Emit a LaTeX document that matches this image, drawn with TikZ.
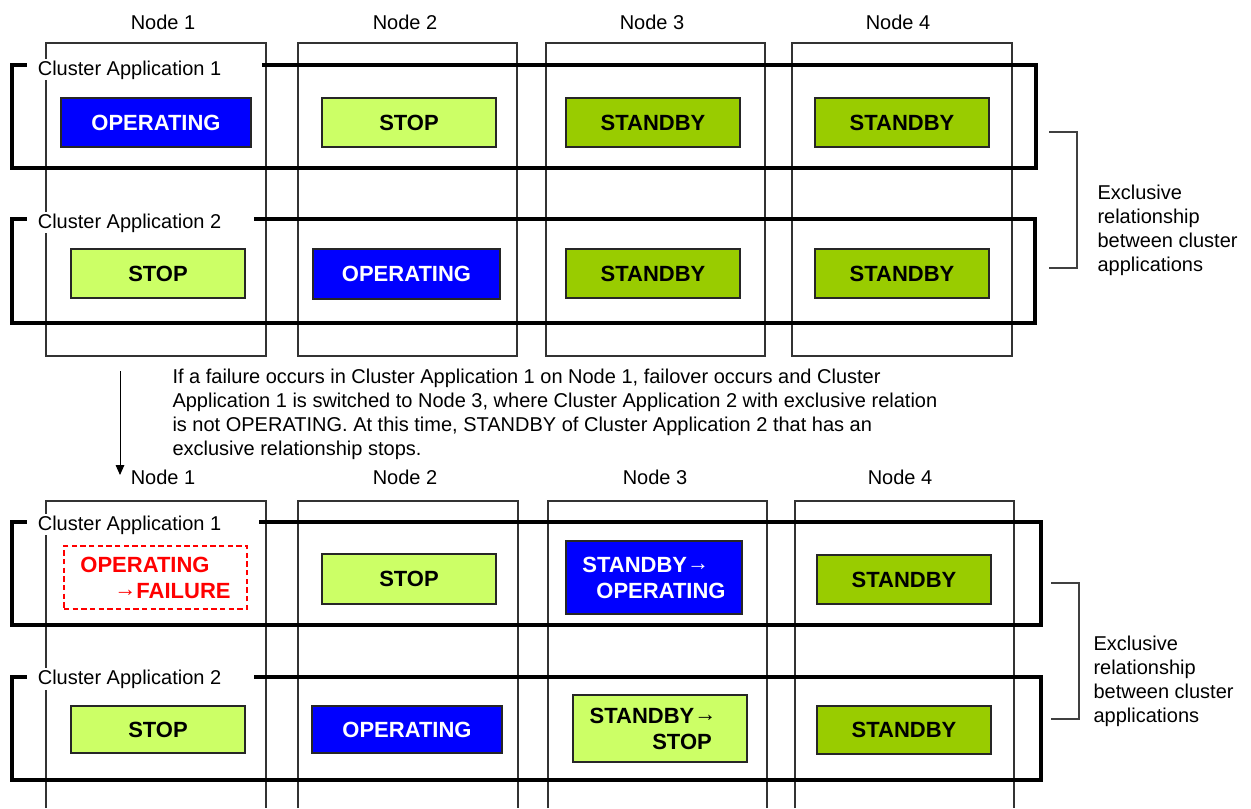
\documentclass[tikz,border=0pt]{standalone}
\usepackage{fontspec}
\setmainfont{Liberation Sans}
\usetikzlibrary{arrows.meta}

\definecolor{opblue}{RGB}{0,0,255}
\definecolor{stoplime}{RGB}{204,255,102}
\definecolor{sbgreen}{RGB}{153,204,0}
\definecolor{failred}{RGB}{255,0,0}

\newcommand{\toarrow}{\raisebox{1.5pt}{→}}

\tikzset{every picture/.style={line width=0.75pt}}
\tikzset{
  nodecol/.style={draw=black!80, line width=1pt},
  appframe/.style={draw=black, line width=2.4pt},
  applabel/.style={anchor=base west, fill=white, inner sep=1pt, font=\fontsize{15}{18}\selectfont},
  nodelabel/.style={anchor=base, inner sep=0pt, font=\fontsize{15}{18}\selectfont},
  statebox/.style={draw=black!85, line width=1.1pt, inner sep=0pt, align=left, font=\fontsize{16.5}{19.5}\selectfont\bfseries},
  opbox/.style={statebox, fill=opblue, text=white},
  stopbox/.style={statebox, fill=stoplime, text=black},
  sbbox/.style={statebox, fill=sbgreen, text=black},
  failbox/.style={statebox, color=failred, dash pattern=on 4pt off 2.5pt, line width=1pt},
  bracket/.style={draw=black!75, line width=1pt},
  note/.style={anchor=north west, inner sep=0pt, align=left, font=\fontsize{15}{18}\selectfont},
}

\begin{document}
\begin{tikzpicture}[x=0.75pt,y=0.75pt,yscale=-1,xscale=1]
\useasboundingbox (0,0) rectangle (1251,808);

%%%%%%%%%% before failover %%%%%%%%%%

%Shape: Node columns
\draw [nodecol] (46,43) rectangle (266,356);
\draw [nodecol] (298,43) rectangle (517,356);
\draw [nodecol] (546,43) rectangle (765,356);
\draw [nodecol] (792,43) rectangle (1012,356);

% Text Node
\node [nodelabel] (preN1) at (163,29) {Node 1};
\node [nodelabel] (preN2) at (405,29) {Node 2};
\node [nodelabel] (preN3) at (652,29) {Node 3};
\node [nodelabel] (preN4) at (898,29) {Node 4};

%Shape: Cluster application frames
\draw [appframe] (262,65) -- (1036,65) -- (1036,168) -- (12,168) -- (12,65) -- (27,65);
\draw [appframe] (254,219) -- (1035,219) -- (1035,323) -- (12,323) -- (12,219) -- (27,219);
\node [applabel] (preApp1) at (36,75) {Cluster Application 1};
\node [applabel] (preApp2) at (36,228) {Cluster Application 2};

%Shape: States of Cluster Application 1
\node [opbox, minimum width=142.5pt, minimum height=36.75pt] (pre11) at (156,122.5) {OPERATING};
\node [stopbox, minimum width=130.5pt, minimum height=36.75pt] (pre12) at (409,122.5) {STOP};
\node [sbbox, minimum width=130.5pt, minimum height=36.75pt] (pre13) at (653,122.5) {STANDBY};
\node [sbbox, minimum width=130.5pt, minimum height=36.75pt] (pre14) at (902,122.5) {STANDBY};

%Shape: States of Cluster Application 2
\node [stopbox, minimum width=130.5pt, minimum height=36.75pt] (pre21) at (158,273.5) {STOP};
\node [opbox, minimum width=140.25pt, minimum height=37.5pt] (pre22) at (406.5,274) {OPERATING};
\node [sbbox, minimum width=130.5pt, minimum height=36.75pt] (pre23) at (653,273.5) {STANDBY};
\node [sbbox, minimum width=130.5pt, minimum height=36.75pt] (pre24) at (902,273.5) {STANDBY};

%Straight Lines: bracket
\draw [bracket] (1049,132) -- (1077,132) -- (1077,268) -- (1049,268);
% Text Node
\node [note] (preExcl) at (1097,184) {Exclusive\\relationship\\between cluster\\applications};

%%%%%%%%%% failover %%%%%%%%%%

\coordinate (flowTop) at (120,371);
\coordinate (flowTip) at (120,475);
\draw [-{Triangle[length=7.5pt,width=6.5pt]}] (flowTop) -- (flowTip);

% Text Node
\node [note] (failNote) at (172,368) {If a failure occurs in Cluster Application 1 on Node 1, failover occurs and Cluster\\Application 1 is switched to Node 3, where Cluster Application 2 with exclusive relation\\is not OPERATING. At this time, STANDBY of Cluster Application 2 that has an\\exclusive relationship stops.};

%%%%%%%%%% after failover %%%%%%%%%%

%Shape: Node columns
\draw [nodecol] (46,808) -- (46,501) -- (266,501) -- (266,808);
\draw [nodecol] (298,808) -- (298,501) -- (518,501) -- (518,808);
\draw [nodecol] (548,808) -- (548,501) -- (767,501) -- (767,808);
\draw [nodecol] (795,808) -- (795,501) -- (1014,501) -- (1014,808);

% Text Node
\node [nodelabel] (postN1) at (163,484) {Node 1};
\node [nodelabel] (postN2) at (405,484) {Node 2};
\node [nodelabel] (postN3) at (655,484) {Node 3};
\node [nodelabel] (postN4) at (900,484) {Node 4};

%Shape: Cluster application frames
\draw [appframe] (259,522) -- (1041,522) -- (1041,625) -- (12,625) -- (12,522) -- (27,522);
\draw [appframe] (254,677) -- (1041,677) -- (1041,780) -- (12,780) -- (12,677) -- (27,677);
\node [applabel] (postApp1) at (36,530) {Cluster Application 1};
\node [applabel] (postApp2) at (36,684) {Cluster Application 2};

%Shape: States of Cluster Application 1
\node [failbox, minimum width=137.25pt, minimum height=47.25pt] (post11) at (155.5,577.5) {OPERATING\\\hspace*{25.5pt}\toarrow FAILURE};
\node [stopbox, minimum width=130.5pt, minimum height=37.5pt] (post12) at (409,579) {STOP};
\node [opbox, minimum width=132pt, minimum height=54.75pt] (post13) at (654,577.5) {STANDBY\toarrow\\\hspace*{10.5pt}OPERATING};
\node [sbbox, minimum width=130.5pt, minimum height=36.75pt] (post14) at (904,579.5) {STANDBY};

%Shape: States of Cluster Application 2
\node [stopbox, minimum width=130.5pt, minimum height=35.25pt] (post21) at (158,729.5) {STOP};
\node [opbox, minimum width=142.5pt, minimum height=35.25pt] (post22) at (407,729.5) {OPERATING};
\node [stopbox, minimum width=130.5pt, minimum height=50.25pt] (post23) at (660,728.5) {STANDBY\toarrow\rule{10.5pt}{0pt}\\\hspace*{47pt}STOP};
\node [sbbox, minimum width=130.5pt, minimum height=36pt] (post24) at (904,730) {STANDBY};

%Straight Lines: bracket
\draw [bracket] (1051,583) -- (1079,583) -- (1079,719) -- (1051,719);
% Text Node
\node [note] (postExcl) at (1093,635) {Exclusive\\relationship\\between cluster\\applications};

\end{tikzpicture}
\end{document}
